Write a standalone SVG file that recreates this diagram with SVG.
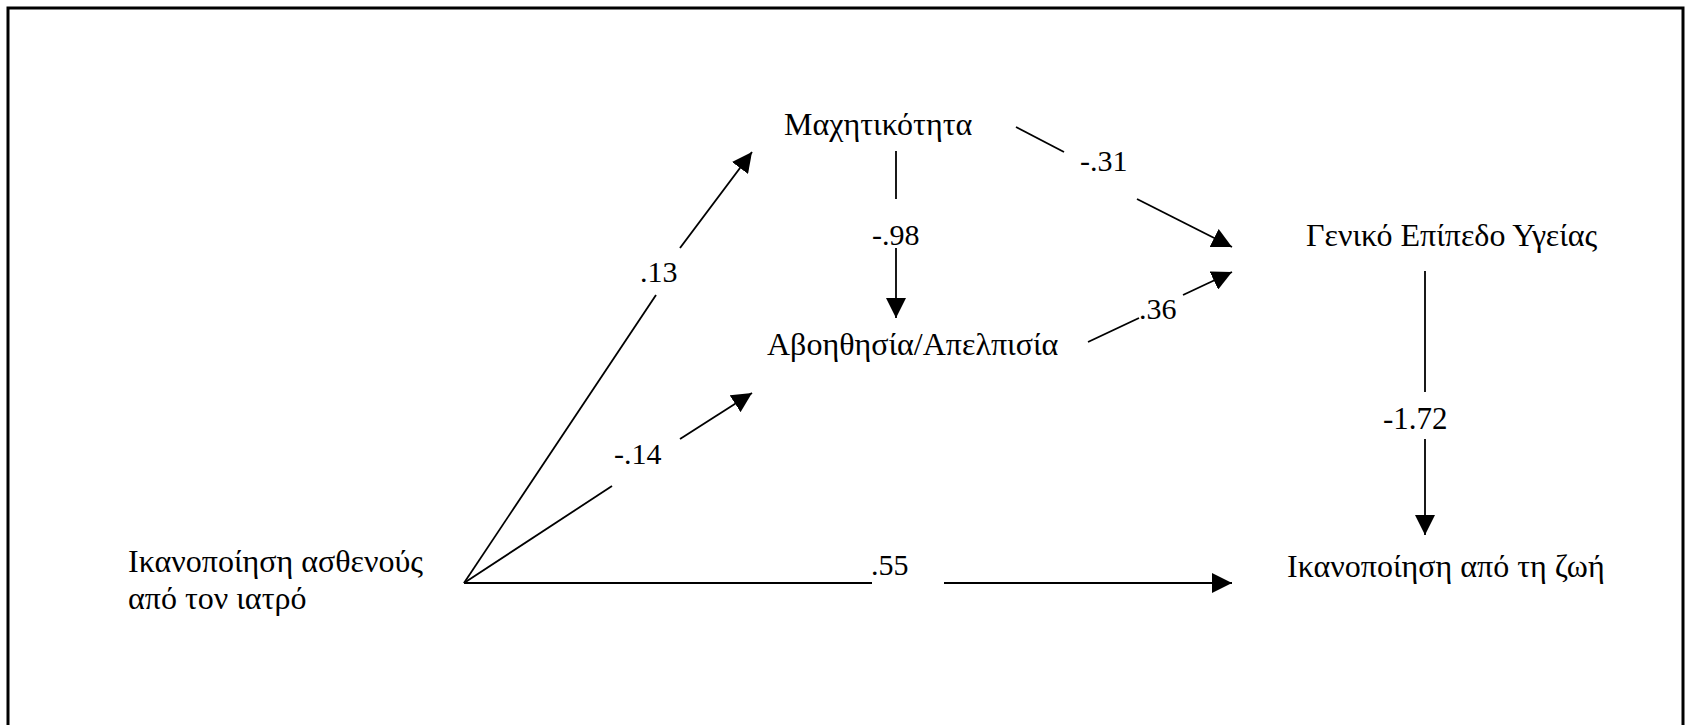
<svg xmlns="http://www.w3.org/2000/svg" width="1686" height="725" viewBox="0 0 1686 725">
<style>
text{font-family:"Liberation Serif","Times New Roman",serif;font-size:30px;fill:#000}
.n text{font-size:32px}
.c{fill:none;stroke:#000;stroke-width:1.8}
</style>
<defs>
<marker id="ah" markerUnits="userSpaceOnUse" markerWidth="20" markerHeight="20" refX="20" refY="10" orient="auto" viewBox="0 0 20 20">
<path d="M0,0 L20,10 L0,20 z" fill="#000"/>
</marker>
</defs>
<rect width="1686" height="725" fill="#fff"/>
<path d="M8,726 V8 H1683 V726" fill="none" stroke="#000" stroke-width="3"/>
<g id="connectors">
<g id="e-13"><path class="c" d="M464,583 L656,295"/><path class="c" d="M680,248 L752,152" marker-end="url(#ah)"/><text x="640" y="282">.13</text></g>
<g id="e-14"><path class="c" d="M464,583 L612,486"/><path class="c" d="M680,439 L752,393" marker-end="url(#ah)"/><text x="614" y="464">-.14</text></g>
<g id="e-55"><path class="c" d="M464,583 L872,583"/><path class="c" d="M944,583 L1232,583" marker-end="url(#ah)"/><text x="871" y="575">.55</text></g>
<g id="e-98"><path class="c" d="M896,151 L896,199"/><path class="c" d="M896,248 L896,318" marker-end="url(#ah)"/><text x="872" y="245">-.98</text></g>
<g id="e-31"><path class="c" d="M1016,127 L1064,152"/><path class="c" d="M1137,199 L1232,247" marker-end="url(#ah)"/><text x="1080" y="171">-.31</text></g>
<g id="e-36"><path class="c" d="M1088,342 L1139,318"/><path class="c" d="M1183,295 L1232,272" marker-end="url(#ah)"/><text x="1139" y="319">.36</text></g>
<g id="e-172"><path class="c" d="M1425,271 L1425,392"/><path class="c" d="M1425,439 L1425,535" marker-end="url(#ah)"/><text x="1383" y="429" style="font-size:31px">-1.72</text></g>
</g>
<g id="n-patient" class="n"><text x="128" y="572">Ικανοποίηση ασθενούς<tspan x="128" y="609">από τον ιατρό</tspan></text></g>
<g id="n-fighting" class="n"><text x="784" y="135">Μαχητικότητα</text></g>
<g id="n-helpless" class="n"><text x="767" y="355">Αβοηθησία/Απελπισία</text></g>
<g id="n-health" class="n"><text x="1306" y="246">Γενικό Επίπεδο Υγείας</text></g>
<g id="n-life" class="n"><text x="1287" y="577">Ικανοποίηση από τη ζωή</text></g>
</svg>
